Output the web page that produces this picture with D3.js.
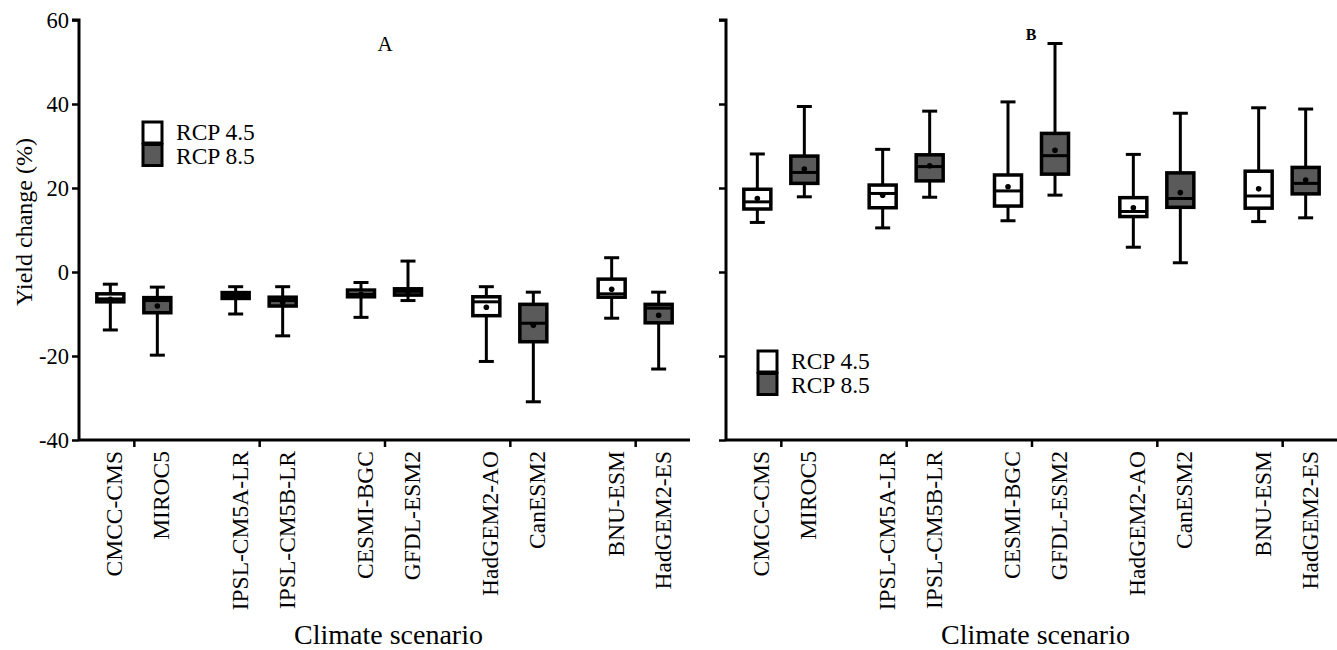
<!DOCTYPE html>
<html>
<head>
<meta charset="utf-8">
<script src="https://cdn.jsdelivr.net/npm/d3@7"></script>
<style>
  html, body { margin: 0; padding: 0; background: #fff; }
  svg { display: block; }
  text { font-family: "Liberation Serif", "Times New Roman", serif; fill: #000; }
</style>
</head>
<body>
<svg id="chart" width="1337" height="650"></svg>
<script>
// ---------- data ----------
const categories = ["CMCC-CMS", "MIROC5", "IPSL-CM5A-LR", "IPSL-CM5B-LR", "CESMI-BGC",
                    "GFDL-ESM2", "HadGEM2-AO", "CanESM2", "BNU-ESM", "HadGEM2-ES"];
const scenarios = ["RCP 4.5", "RCP 8.5", "RCP 4.5", "RCP 8.5", "RCP 4.5",
                   "RCP 8.5", "RCP 4.5", "RCP 8.5", "RCP 4.5", "RCP 8.5"];
const yTicks = [-40, -20, 0, 20, 40, 60];

// Panel A
const aMax    = [-2.9, -3.6, -3.5, -3.5, -2.5,  2.6, -3.5, -4.8,  3.4, -4.8];
const aQ3     = [-5.2, -6.1, -4.9, -6.0, -4.3, -4.0, -5.9, -7.7, -1.7, -7.7];
const aMedian = [-6.4, -6.8, -5.6, -6.8, -5.2, -4.6, -7.1, -12.2, -5.2, -8.6];
const aQ1     = [-7.1, -9.7, -6.3, -8.1, -5.9, -5.5, -10.4, -16.6, -6.0, -12.1];
const aMin    = [-13.8, -19.8, -10.0, -15.2, -10.8, -6.8, -21.3, -30.9, -11.0, -23.1];
const aMean   = [-6.5, -8.1, -5.6, -7.2, -5.3, -4.7, -8.4, -12.7, -4.1, -10.3];

// Panel B
const bMax    = [28.1, 39.4, 29.2, 38.3, 40.5, 54.4, 28.0, 37.8, 39.1, 38.8];
const bQ3     = [19.7, 27.6, 20.7, 27.9, 23.1, 33.0, 17.7, 23.6, 24.0, 24.9];
const bMedian = [16.7, 23.7, 18.7, 25.1, 19.3, 27.7, 14.4, 17.5, 18.1, 21.1];
const bQ1     = [15.0, 21.1, 15.3, 21.7, 15.7, 23.3, 13.2, 15.4, 15.2, 18.6];
const bMin    = [11.8, 17.9, 10.5, 17.8, 12.2, 18.3,  5.9,  2.2, 12.0, 12.9];
const bMean   = [17.5, 24.5, 18.3, 25.3, 20.3, 29.0, 15.3, 18.9, 19.8, 21.9];

// ---------- drawing ----------
const FONT = '"Liberation Serif", "Times New Roman", serif';
const svg = d3.select("#chart");
const fillFor = s => s === "RCP 8.5" ? "#5a5a5a" : "#ffffff";

const y = d3.scaleLinear().domain([-40, 60]).range([440, 20]);
// slot position of each box within the 13-slot-wide axis
const slot = i => 2 / 3 + Math.floor(i / 2) * 8 / 3 + (i % 2);
const groupCenters = [0, 1, 2, 3, 4].map(g => 2 / 3 + g * 8 / 3 + 0.5);

function panel(x0, x1, showLabels, data, letter, legendPos) {
  const x = d3.scaleLinear().domain([0, 13]).range([x0, x1]);
  const g = svg.append("g").attr("font-family", FONT);

  // y axis
  const yAxis = d3.axisLeft(y).tickValues(yTicks).tickSize(7).tickPadding(3)
    .tickFormat(d => showLabels ? String(d) : "");
  const ya = g.append("g").attr("transform", `translate(${x0},0)`).call(yAxis)
    .attr("font-family", FONT).attr("font-size", 22.5);
  ya.select(".domain").attr("d", `M-7,${y(60)}H0V${y(-40)}`).attr("stroke-width", 3);
  ya.selectAll(".tick line").attr("stroke-width", 2.5);
  ya.selectAll(".tick text").attr("fill", "#000");

  // x axis
  const xAxis = d3.axisBottom(x).tickValues(groupCenters).tickSize(7).tickFormat("");
  const xa = g.append("g").attr("transform", `translate(0,${y(-40)})`).call(xAxis);
  xa.select(".domain").attr("d", `M${x0},0H${x1}`).attr("stroke-width", 3);
  xa.selectAll(".tick line").attr("stroke-width", 2.5);

  // category labels
  g.selectAll("text.cat").data(categories).join("text")
    .attr("class", "cat")
    .attr("transform", (d, i) => `translate(${x(slot(i)) + 4},${y(-40) + 11}) rotate(-90)`)
    .attr("text-anchor", "end")
    .attr("dominant-baseline", "central")
    .attr("font-size", 23.5)
    .text(d => d);

  // axis title
  g.append("text")
    .attr("x", (x0 + x1) / 2 + 4).attr("y", 644)
    .attr("text-anchor", "middle").attr("font-size", 28)
    .text("Climate scenario");

  // boxes
  const bw = 27, cap = 15;
  const boxes = g.selectAll("g.box").data(categories.map((c, i) => i)).join("g").attr("class", "box");
  boxes.append("line")
    .attr("x1", i => x(slot(i))).attr("x2", i => x(slot(i)))
    .attr("y1", i => y(data.max[i])).attr("y2", i => y(data.q3[i]))
    .attr("stroke", "#000").attr("stroke-width", 3);
  boxes.append("line")
    .attr("x1", i => x(slot(i))).attr("x2", i => x(slot(i)))
    .attr("y1", i => y(data.q1[i])).attr("y2", i => y(data.min[i]))
    .attr("stroke", "#000").attr("stroke-width", 3);
  boxes.append("line")
    .attr("x1", i => x(slot(i)) - cap / 2).attr("x2", i => x(slot(i)) + cap / 2)
    .attr("y1", i => y(data.max[i])).attr("y2", i => y(data.max[i]))
    .attr("stroke", "#000").attr("stroke-width", 3);
  boxes.append("line")
    .attr("x1", i => x(slot(i)) - cap / 2).attr("x2", i => x(slot(i)) + cap / 2)
    .attr("y1", i => y(data.min[i])).attr("y2", i => y(data.min[i]))
    .attr("stroke", "#000").attr("stroke-width", 3);
  boxes.append("rect")
    .attr("x", i => x(slot(i)) - bw / 2).attr("width", bw)
    .attr("y", i => y(data.q3[i])).attr("height", i => y(data.q1[i]) - y(data.q3[i]))
    .attr("fill", i => fillFor(scenarios[i]))
    .attr("stroke", "#000").attr("stroke-width", 3.5);
  boxes.append("line")
    .attr("x1", i => x(slot(i)) - bw / 2).attr("x2", i => x(slot(i)) + bw / 2)
    .attr("y1", i => y(data.median[i])).attr("y2", i => y(data.median[i]))
    .attr("stroke", "#000").attr("stroke-width", 3);
  boxes.append("circle")
    .attr("cx", i => x(slot(i))).attr("cy", i => y(data.mean[i]))
    .attr("r", 2.8).attr("fill", "#000");

  // panel letter
  g.append("text").attr("x", letter.x).attr("y", letter.y)
    .attr("text-anchor", "middle")
    .attr("font-size", letter.size).attr("font-weight", letter.bold ? "bold" : "normal")
    .text(letter.t);

  // legend
  const lg = g.append("g").attr("transform", `translate(${legendPos.x},${legendPos.y})`);
  const legendItems = ["RCP 4.5", "RCP 8.5"];
  lg.selectAll("rect").data(legendItems).join("rect")
    .attr("x", 0).attr("y", (d, i) => i * 22.5).attr("width", 19).attr("height", 21)
    .attr("fill", d => fillFor(d)).attr("stroke", "#000").attr("stroke-width", 3);
  lg.selectAll("text").data(legendItems).join("text")
    .attr("x", 33).attr("y", (d, i) => i * 23.5 + 18)
    .attr("font-size", 23.5)
    .text(d => d);
}

panel(79, 690, true,
  { max: aMax, q3: aQ3, median: aMedian, q1: aQ1, min: aMin, mean: aMean },
  { t: "A", x: 385, y: 51, size: 21, bold: false }, { x: 143, y: 122 });

panel(726, 1337, false,
  { max: bMax, q3: bQ3, median: bMedian, q1: bQ1, min: bMin, mean: bMean },
  { t: "B", x: 1031, y: 40, size: 16, bold: true }, { x: 758, y: 351 });

// y axis title (left panel only)
svg.append("text")
  .attr("transform", `translate(24,222) rotate(-90)`)
  .attr("text-anchor", "middle")
  .attr("dominant-baseline", "central")
  .attr("font-family", FONT)
  .attr("font-size", 24)
  .text("Yield change (%)");
</script>
</body>
</html>
